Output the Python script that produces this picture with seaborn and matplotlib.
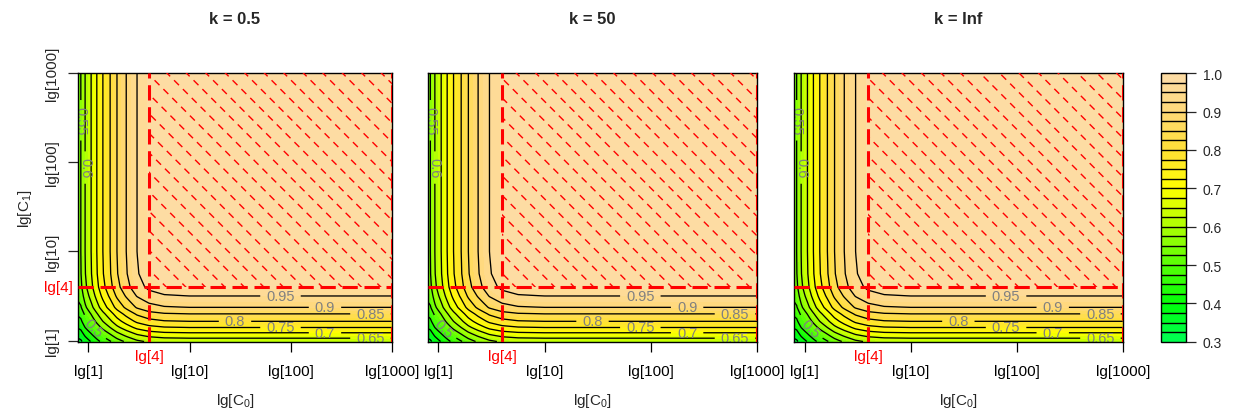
import numpy as np
import matplotlib
matplotlib.use("Agg")
import matplotlib.pyplot as plt
import seaborn as sns
from matplotlib.colors import LinearSegmentedColormap
from matplotlib.patches import Rectangle

sns.set_style("ticks")
plt.rcParams['font.family'] = ['Liberation Sans', 'DejaVu Sans']
plt.rcParams['mathtext.fontset'] = 'custom'
plt.rcParams['mathtext.rm'] = 'Liberation Sans'
plt.rcParams['mathtext.it'] = 'Liberation Sans:italic'

# ---------------- data ----------------
panel_titles = ["k = 0.5", "k = 50", "k = Inf"]
c0_lg = [-0.10, -0.075, -0.033, 0.027, 0.083, 0.143, 0.215, 0.282, 0.374, 0.48, 0.60, 0.75, 1.0, 3.0]
c0_val = [0.54, 0.55, 0.60, 0.65, 0.70, 0.75, 0.80, 0.85, 0.90, 0.95, 0.98, 0.995, 1.0, 1.0]
# marginal response profile along lg[C1]
c1_lg = [-0.01, 0.027, 0.088, 0.147, 0.216, 0.300, 0.372, 0.50, 0.60, 0.75, 1.0, 3.0]
c1_val = [0.62, 0.65, 0.70, 0.75, 0.80, 0.85, 0.90, 0.95, 0.98, 0.995, 1.0, 1.0]
threshold_lg = np.log10(4)
tick_pos = [0, 1, 2, 3]
tick_labels = ["lg[1]", "lg[10]", "lg[100]", "lg[1000]"]
fill_levels = np.round(np.arange(0.3, 1.0001, 0.025), 3)
line_levels = np.round(np.arange(0.35, 0.951, 0.05), 2)
cbar_ticks = [0.3, 0.4, 0.5, 0.6, 0.7, 0.8, 0.9, 1.0]
label_spots = [(1.9, 0.5), (2.34, 0.37), (2.79, 0.3), (1.45, 0.215),
               (1.9, 0.147), (2.34, 0.088), (2.79, 0.027),
               (-0.033, 1.94), (-0.075, 2.47), (0.05, 0.14)]
xlim = (-0.1, 3.0)
ylim = (-0.01, 3.0)

gx = np.linspace(xlim[0], xlim[1], 500)
gy = np.linspace(ylim[0], ylim[1], 500)
Z = np.outer(np.interp(gy, c1_lg, c1_val), np.interp(gx, c0_lg, c0_val))
X, Y = np.meshgrid(gx, gy)

cmap = LinearSegmentedColormap.from_list("rsm", [
    (0.0, "#00FF55"), (0.1 / 0.7, "#00FF08"), (0.4 / 0.7, "#FFFF00"),
    (0.5 / 0.7, "#FFE035"), (0.6 / 0.7, "#FFD878"), (1.0, "#FDDCA8")])

W, H = 1235, 414
fig = plt.figure(figsize=(W / 100, H / 100), dpi=100)

def pax(l, r, t, b):
    return [l / W, 1 - b / H, (r - l) / W, (b - t) / H]

panels = [(78.3, 391.7), (427.7, 757.3), (794.0, 1122.7)]
top, bot = 74.0, 342.5
red_dash = dict(color="red", lw=2.2, linestyle=(0, (5, 2.2)), zorder=6)

cf = None
for i, (l, r) in enumerate(panels):
    ax = fig.add_axes(pax(l, r, top, bot))
    cf = ax.contourf(X, Y, Z, levels=fill_levels, cmap=cmap, vmin=0.3, vmax=1.0, zorder=1)
    cs = ax.contour(X, Y, Z, levels=line_levels, colors="black", linewidths=0.95, zorder=2)
    ax.clabel(cs, manual=label_spots, inline=True, fontsize=10.5,
              colors="#808080", fmt=lambda v: f"{v:g}", inline_spacing=6)

    # hatched region
    rect = Rectangle((threshold_lg, threshold_lg), xlim[1] - threshold_lg, ylim[1] - threshold_lg,
                     fill=False, edgecolor="none")
    ax.add_patch(rect)
    aw, ah = r - l, bot - top
    for c in np.arange(6, aw + ah, 19.5):
        ln, = ax.plot([c / aw, 0], [0, c / ah], transform=ax.transAxes, color="red",
                      lw=1.0, linestyle=(0, (5, 4)), zorder=5)
        ln.set_clip_path(rect)
    ax.axvline(threshold_lg, **red_dash)
    ax.axhline(threshold_lg, **red_dash)
    ax.axvline(xlim[1], **red_dash)

    ax.set_xlim(xlim)
    ax.set_ylim(ylim)
    for s in ax.spines.values():
        s.set_linewidth(1.0)
        s.set_color("black")
        s.set_zorder(4)
    ax.set_xticks(tick_pos)
    ax.set_xticklabels(tick_labels, fontsize=11)
    ax.tick_params(axis="x", direction="out", length=7.2, width=0.9, pad=9.0, colors="black")
    ax.annotate("lg[4]", xy=(threshold_lg, 0), xycoords=("data", "axes fraction"),
                xytext=(0, -10.6), textcoords="offset points", ha="center", va="center",
                color="red", fontsize=11, annotation_clip=False)
    ax.set_xlabel("lg[C$_{\\mathregular{0}}$]", fontsize=11, labelpad=9.5)
    if i == 0:
        ax.set_yticks(tick_pos)
        ax.set_yticklabels(tick_labels, fontsize=11, rotation=90, va="center")
        ax.tick_params(axis="y", direction="out", length=7.2, width=0.9, pad=6.5)
        ax.annotate("lg[4]", xy=(0, threshold_lg), xycoords=("axes fraction", "data"),
                    xytext=(-3.8, 0), textcoords="offset points", ha="right", va="center",
                    color="red", fontsize=11, annotation_clip=False)
        ax.set_ylabel("lg[C$_{\\mathregular{1}}$]", fontsize=11, labelpad=8)
    else:
        ax.set_yticks([])
    fig.text((l + r) / 2 / W, 1 - 19 / H, panel_titles[i], ha="center", va="center",
             fontsize=12, fontweight="bold")

cax = fig.add_axes(pax(1160.7, 1186.0, 74.3, 342.7))
cb = fig.colorbar(cf, cax=cax, drawedges=True, ticks=cbar_ticks)
cb.ax.set_yticklabels([f"{t:.1f}" for t in cbar_ticks], fontsize=10)
cb.ax.tick_params(direction="out", length=7.2, width=0.9, pad=5)
cb.outline.set_linewidth(1.0)
cb.outline.set_edgecolor("black")
cb.dividers.set_color("black")
cb.dividers.set_linewidth(1.0)
cb.ax.minorticks_off()

fig.savefig("out.png", dpi=100)
